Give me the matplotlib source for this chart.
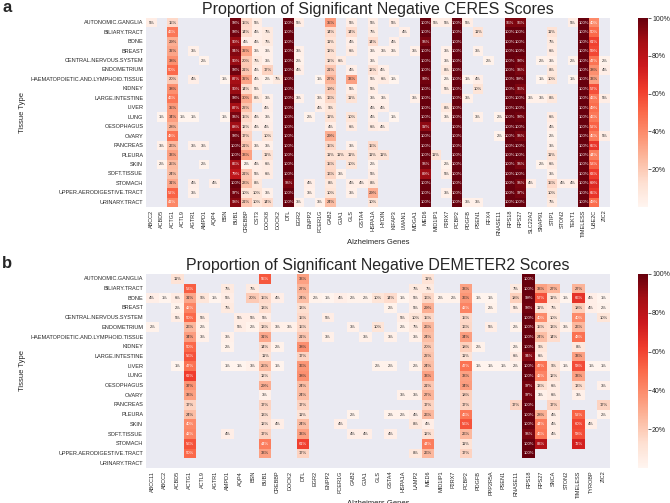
import numpy as np
import pandas as pd
import seaborn as sns
import matplotlib
matplotlib.use("Agg")
from matplotlib import pyplot as plt

tissues = ["AUTONOMIC.GANGLIA", "BILIARY.TRACT", "BONE", "BREAST", "CENTRAL.NERVOUS.SYSTEM",
           "ENDOMETRIUM", "HAEMATOPOIETIC.AND.LYMPHOID.TISSUE", "KIDNEY", "LARGE.INTESTINE",
           "LIVER", "LUNG", "OESOPHAGUS", "OVARY", "PANCREAS", "PLEURA", "SKIN", "SOFT.TISSUE",
           "STOMACH", "UPPER.AERODIGESTIVE.TRACT", "URINARY.TRACT"]

ceres_genes = ["ABCC2", "ACBD5", "ACTG1", "ACTL9", "AGTR1", "AMPD1", "AQP4", "BSN", "BUB1", "CREBBP",
               "CST3", "DOCK8", "DOCK2", "DTL", "EGR2", "ENPP2", "FCER1G", "GAB2", "GJA1", "GLS",
               "GSTA4", "HSPA1A", "HYDIN", "KIFAP3", "LMAN1", "MDGA1", "MED6", "MID1IP1", "P2RX7",
               "PCBP2", "PDGFB", "PSEN1", "RFX4", "RNASE11", "RPS18", "RPS27", "SLC22A2", "SNAP91",
               "STIP1", "STON2", "TEKT1", "TIMELESS", "UBE2C", "ZIC2"]

demeter_genes = ["ABCC11", "ABCC2", "ACBD5", "ACTG1", "ACTL9", "AGTR1", "AMPD1", "AQP4", "BSN", "BUB1",
                 "CREBBP", "DOCK2", "DTL", "EGR2", "ENPP2", "FCER1G", "GAB2", "GJA1", "GLS", "GSTA4",
                 "HSPA1A", "LAMP2", "MED6", "MID1IP1", "P2RX7", "PCBP2", "PDGFB", "PPP2R5A", "PSEN1",
                 "RNASE11", "RPS18", "RPS27", "SNCA", "STON2", "TIMELESS", "TYROBP", "ZIC2"]

# percent of cell lines with a significant negative score, one dict per tissue (missing = 0)
ceres_pct = [
    {"ABCC2": 5, "ACTG1": 15, "BUB1": 98, "CREBBP": 15, "CST3": 5, "DTL": 100, "EGR2": 5, "GAB2": 35,
     "GLS": 5, "HSPA1A": 5, "KIFAP3": 5, "MED6": 100, "MID1IP1": 5, "P2RX7": 5, "PCBP2": 100, "PDGFB": 5,
     "RPS18": 95, "RPS27": 95, "TEKT1": 5, "TIMELESS": 100, "UBE2C": 40},
    {"ACTG1": 46, "BUB1": 98, "CREBBP": 14, "CST3": 4, "DOCK8": 7, "DTL": 100, "GAB2": 14, "GLS": 14,
     "HSPA1A": 7, "LMAN1": 4, "MED6": 100, "PCBP2": 100, "PSEN1": 11, "RPS18": 100, "RPS27": 100,
     "STIP1": 11, "TIMELESS": 100, "UBE2C": 50},
    {"ACTG1": 29, "BUB1": 90, "CREBBP": 4, "CST3": 4, "DOCK8": 7, "DTL": 100, "GAB2": 11, "GLS": 4,
     "HSPA1A": 14, "KIFAP3": 4, "MED6": 96, "PCBP2": 100, "RPS18": 100, "RPS27": 100, "STIP1": 7,
     "TIMELESS": 100, "UBE2C": 61},
    {"ACTG1": 32, "AGTR1": 3, "BUB1": 94, "CREBBP": 32, "CST3": 3, "DOCK8": 3, "DTL": 100, "EGR2": 3,
     "GAB2": 12, "GLS": 6, "HSPA1A": 3, "HYDIN": 3, "KIFAP3": 3, "MDGA1": 3, "MED6": 100, "P2RX7": 3,
     "PCBP2": 100, "PSEN1": 3, "RPS18": 100, "RPS27": 100, "STIP1": 6, "TIMELESS": 100, "UBE2C": 59},
    {"ACTG1": 38, "AMPD1": 2, "BUB1": 90, "CREBBP": 20, "CST3": 7, "DOCK8": 3, "DTL": 100, "EGR2": 2,
     "GAB2": 12, "GJA1": 6, "HSPA1A": 3, "MED6": 100, "P2RX7": 3, "PCBP2": 100, "RFX4": 2, "RPS18": 100,
     "RPS27": 98, "SNAP91": 2, "STIP1": 3, "TEKT1": 2, "TIMELESS": 100, "UBE2C": 47, "ZIC2": 2},
    {"ACTG1": 50, "BUB1": 98, "CREBBP": 21, "CST3": 4, "DOCK8": 17, "DTL": 100, "EGR2": 4, "GAB2": 21,
     "GLS": 4, "HSPA1A": 12, "HYDIN": 4, "MED6": 100, "P2RX7": 8, "PCBP2": 100, "RPS18": 100, "RPS27": 96,
     "STIP1": 8, "TIMELESS": 100, "UBE2C": 38, "ZIC2": 4},
    {"ACTG1": 20, "AGTR1": 4, "BSN": 1, "BUB1": 87, "CREBBP": 32, "CST3": 4, "DOCK8": 2, "DOCK2": 7,
     "DTL": 100, "FCER1G": 1, "GAB2": 27, "GLS": 33, "HSPA1A": 5, "HYDIN": 6, "KIFAP3": 1, "MED6": 98,
     "P2RX7": 2, "PCBP2": 100, "PDGFB": 1, "PSEN1": 4, "RPS18": 100, "RPS27": 99, "SNAP91": 1,
     "STIP1": 10, "TEKT1": 1, "TIMELESS": 100, "UBE2C": 33},
    {"ACTG1": 38, "BUB1": 90, "CREBBP": 14, "CST3": 5, "DTL": 100, "GAB2": 19, "GLS": 5, "HSPA1A": 5,
     "MED6": 100, "P2RX7": 5, "PCBP2": 100, "PSEN1": 10, "RPS18": 100, "RPS27": 95, "TIMELESS": 100,
     "UBE2C": 57},
    {"ACTG1": 46, "BUB1": 98, "CREBBP": 30, "CST3": 8, "DOCK8": 3, "DTL": 100, "EGR2": 3, "FCER1G": 3,
     "GAB2": 16, "GLS": 11, "HSPA1A": 3, "HYDIN": 3, "MDGA1": 3, "MED6": 100, "PCBP2": 100, "PDGFB": 3,
     "RPS18": 100, "RPS27": 100, "SLC22A2": 3, "SNAP91": 3, "STIP1": 8, "TIMELESS": 100, "UBE2C": 46,
     "ZIC2": 5},
    {"ACTG1": 35, "BUB1": 87, "CREBBP": 22, "DOCK8": 4, "DTL": 100, "FCER1G": 4, "GAB2": 9, "HSPA1A": 4,
     "HYDIN": 4, "MED6": 100, "P2RX7": 8, "PCBP2": 100, "RPS18": 100, "RPS27": 100, "TIMELESS": 100,
     "UBE2C": 49},
    {"ACBD5": 1, "ACTG1": 34, "ACTL9": 1, "AGTR1": 1, "BSN": 1, "BUB1": 96, "CREBBP": 15, "CST3": 4,
     "DOCK8": 3, "DTL": 100, "ENPP2": 2, "GAB2": 11, "GLS": 10, "HSPA1A": 4, "KIFAP3": 1, "MED6": 100,
     "P2RX7": 3, "PCBP2": 100, "PSEN1": 3, "RNASE11": 2, "RPS18": 100, "RPS27": 98, "STIP1": 6,
     "TIMELESS": 100, "UBE2C": 46},
    {"ACTG1": 28, "BUB1": 88, "CREBBP": 12, "CST3": 4, "DOCK8": 4, "DTL": 100, "GAB2": 4, "GLS": 6,
     "HSPA1A": 6, "HYDIN": 4, "MED6": 92, "PCBP2": 100, "RPS18": 100, "RPS27": 100, "STIP1": 4,
     "TIMELESS": 100, "UBE2C": 52},
    {"ACTG1": 48, "BUB1": 98, "CREBBP": 17, "DOCK8": 10, "DTL": 100, "GAB2": 29, "MED6": 100,
     "PCBP2": 100, "RNASE11": 2, "RPS18": 100, "RPS27": 96, "STIP1": 2, "TIMELESS": 100, "UBE2C": 45,
     "ZIC2": 5},
    {"ACBD5": 3, "ACTG1": 26, "AGTR1": 3, "AMPD1": 3, "BUB1": 100, "CREBBP": 21, "CST3": 3, "DOCK8": 3,
     "DTL": 100, "GAB2": 15, "GLS": 3, "HSPA1A": 15, "MED6": 100, "PCBP2": 100, "RPS18": 100,
     "RPS27": 100, "STIP1": 3, "TIMELESS": 100, "UBE2C": 65},
    {"ACTG1": 33, "BUB1": 100, "CREBBP": 33, "DOCK8": 11, "DTL": 100, "GAB2": 11, "GJA1": 11, "GLS": 11,
     "HSPA1A": 11, "HYDIN": 11, "MED6": 100, "MID1IP1": 11, "PCBP2": 100, "RPS18": 100, "RPS27": 100,
     "STIP1": 11, "TIMELESS": 100, "UBE2C": 44},
    {"ACBD5": 2, "ACTG1": 25, "AMPD1": 2, "BUB1": 86, "CREBBP": 2, "CST3": 4, "DOCK8": 6, "DTL": 100,
     "GAB2": 15, "GLS": 10, "HSPA1A": 2, "MED6": 96, "P2RX7": 2, "PCBP2": 100, "RPS18": 100, "RPS27": 96,
     "SNAP91": 2, "STIP1": 6, "TIMELESS": 100, "UBE2C": 53},
    {"ACTG1": 24, "BUB1": 79, "CREBBP": 21, "CST3": 5, "DOCK8": 6, "DTL": 100, "GAB2": 16, "GJA1": 3,
     "HSPA1A": 5, "MED6": 89, "P2RX7": 5, "PCBP2": 100, "RPS18": 100, "RPS27": 100, "STIP1": 3,
     "TIMELESS": 100, "UBE2C": 63},
    {"ACTG1": 31, "AGTR1": 4, "AQP4": 4, "BUB1": 100, "CREBBP": 23, "CST3": 8, "DTL": 96, "ENPP2": 4,
     "GAB2": 8, "GLS": 4, "GSTA4": 4, "HSPA1A": 8, "MED6": 100, "PCBP2": 100, "RPS18": 100, "RPS27": 96,
     "SLC22A2": 4, "STIP1": 15, "STON2": 4, "TEKT1": 4, "TIMELESS": 100, "UBE2C": 69},
    {"ACTG1": 52, "AGTR1": 3, "BUB1": 97, "CREBBP": 10, "CST3": 10, "DOCK8": 3, "DTL": 100, "ENPP2": 3,
     "GAB2": 10, "GLS": 3, "HSPA1A": 29, "MED6": 100, "P2RX7": 3, "PCBP2": 100, "RPS18": 100, "RPS27": 97,
     "STIP1": 10, "TIMELESS": 100, "UBE2C": 65},
    {"ACTG1": 41, "BUB1": 93, "CREBBP": 21, "CST3": 10, "DOCK8": 14, "DTL": 100, "EGR2": 3, "FCER1G": 3,
     "GAB2": 24, "HSPA1A": 10, "MED6": 100, "PCBP2": 100, "PDGFB": 3, "PSEN1": 3, "RPS18": 100,
     "RPS27": 100, "STIP1": 7, "TIMELESS": 100, "UBE2C": 49},
]

demeter_pct = [
    {"ACBD5": 11, "BUB1": 55, "DTL": 33, "MED6": 11, "RPS18": 100},
    {"ACTG1": 53, "AMPD1": 7, "BSN": 7, "DTL": 27, "LAMP2": 7, "MED6": 7, "PCBP2": 33, "RNASE11": 7,
     "RPS18": 100, "RPS27": 33, "SNCA": 27, "TIMELESS": 27},
    {"ABCC11": 4, "ABCC2": 1, "ACBD5": 6, "ACTG1": 31, "ACTL9": 9, "AGTR1": 1, "AMPD1": 5, "BSN": 20,
     "BUB1": 15, "CREBBP": 4, "DTL": 24, "EGR2": 2, "ENPP2": 1, "FCER1G": 4, "GAB2": 2, "GJA1": 2,
     "GLS": 10, "GSTA4": 14, "HSPA1A": 1, "LAMP2": 5, "MED6": 16, "MID1IP1": 2, "P2RX7": 2, "PCBP2": 36,
     "PDGFB": 1, "PPP2R5A": 1, "RNASE11": 18, "RPS18": 99, "RPS27": 57, "SNCA": 11, "STON2": 1,
     "TIMELESS": 66, "TYROBP": 4, "ZIC2": 1},
    {"ACBD5": 2, "ACTG1": 42, "AMPD1": 7, "BUB1": 13, "DTL": 13, "GSTA4": 2, "LAMP2": 5, "MED6": 29,
     "PCBP2": 42, "PPP2R5A": 2, "RNASE11": 5, "RPS18": 98, "RPS27": 11, "SNCA": 7, "TIMELESS": 18,
     "TYROBP": 4, "ZIC2": 2},
    {"ACBD5": 5, "ACTG1": 50, "ACTL9": 5, "AQP4": 5, "BSN": 5, "BUB1": 5, "DTL": 15, "ENPP2": 5,
     "HSPA1A": 5, "LAMP2": 10, "MED6": 15, "PCBP2": 15, "RPS18": 100, "RPS27": 40, "SNCA": 10,
     "TIMELESS": 40, "ZIC2": 10},
    {"ABCC11": 2, "ACTG1": 26, "ACTL9": 2, "AQP4": 5, "BSN": 2, "BUB1": 13, "CREBBP": 3, "DOCK2": 3,
     "DTL": 15, "GAB2": 3, "GLS": 10, "HSPA1A": 2, "LAMP2": 7, "MED6": 26, "PCBP2": 16, "PPP2R5A": 5,
     "RNASE11": 2, "RPS18": 100, "RPS27": 15, "SNCA": 13, "STON2": 3, "TIMELESS": 26},
    {"ACTG1": 34, "ACTL9": 3, "AMPD1": 3, "BUB1": 31, "DTL": 21, "ENPP2": 3, "GJA1": 3, "GSTA4": 3,
     "LAMP2": 3, "MED6": 24, "PCBP2": 34, "RPS18": 100, "RPS27": 24, "SNCA": 14, "TIMELESS": 48},
    {"ACTG1": 50, "AMPD1": 2, "BUB1": 14, "CREBBP": 2, "DTL": 38, "MED6": 20, "PCBP2": 18, "PDGFB": 2,
     "RNASE11": 2, "RPS18": 100, "RPS27": 9, "TIMELESS": 8},
    {"ACTG1": 56, "BUB1": 11, "DTL": 17, "MED6": 22, "PCBP2": 11, "RNASE11": 6, "RPS18": 94, "RPS27": 6,
     "TIMELESS": 33},
    {"ACBD5": 1, "ACTG1": 47, "AMPD1": 1, "AQP4": 1, "BSN": 3, "BUB1": 25, "CREBBP": 1, "DTL": 36,
     "GLS": 2, "GSTA4": 2, "LAMP2": 2, "MED6": 24, "PCBP2": 47, "PDGFB": 1, "PPP2R5A": 1, "PSEN1": 1,
     "RNASE11": 2, "RPS18": 100, "RPS27": 47, "SNCA": 9, "STON2": 1, "TIMELESS": 58, "TYROBP": 1,
     "ZIC2": 1},
    {"ACTG1": 62, "BUB1": 12, "DTL": 38, "MED6": 33, "PCBP2": 33, "RPS18": 100, "RPS27": 42, "SNCA": 12,
     "TIMELESS": 33},
    {"ACTG1": 37, "BUB1": 29, "DTL": 24, "MED6": 21, "PCBP2": 34, "RPS18": 97, "RPS27": 13, "SNCA": 6,
     "TIMELESS": 13, "ZIC2": 3},
    {"ACTG1": 33, "BUB1": 3, "DTL": 24, "HSPA1A": 3, "LAMP2": 3, "MED6": 27, "PCBP2": 18, "RPS18": 97,
     "RPS27": 3, "SNCA": 6, "TIMELESS": 3},
    {"ACTG1": 17, "BUB1": 17, "DTL": 17, "MED6": 17, "PCBP2": 17, "RNASE11": 17, "RPS18": 100,
     "SNCA": 17, "ZIC2": 17},
    {"ACTG1": 24, "BUB1": 13, "DTL": 11, "GAB2": 2, "GSTA4": 2, "HSPA1A": 2, "LAMP2": 4, "MED6": 26,
     "PCBP2": 46, "RPS18": 100, "RPS27": 28, "SNCA": 4, "TIMELESS": 52, "ZIC2": 2},
    {"ACTG1": 40, "BUB1": 12, "CREBBP": 4, "DTL": 24, "FCER1G": 4, "LAMP2": 8, "MED6": 4, "PCBP2": 56,
     "RPS18": 100, "RPS27": 44, "SNCA": 4, "TIMELESS": 60, "TYROBP": 4},
    {"ACTG1": 42, "AMPD1": 4, "BUB1": 17, "DTL": 33, "GAB2": 4, "GJA1": 4, "GSTA4": 4, "MED6": 12,
     "PCBP2": 26, "RPS18": 96, "RPS27": 46, "SNCA": 4, "TIMELESS": 58},
    {"ACTG1": 56, "BUB1": 44, "DTL": 61, "MED6": 44, "PCBP2": 11, "RPS18": 100, "RPS27": 83,
     "TIMELESS": 72},
    {"ACTG1": 50, "BUB1": 33, "DTL": 17, "LAMP2": 8, "MED6": 26, "PCBP2": 17, "RPS18": 100},
    {},
]


def to_frame(rows, genes):
    df = pd.DataFrame(0.0, index=tissues, columns=genes)
    for tissue, row in zip(tissues, rows):
        for gene, val in row.items():
            df.loc[tissue, gene] = val
    return df


sns.set_style("darkgrid")
plt.rcParams['font.family'] = ['Liberation Sans', 'DejaVu Sans']

fig = plt.figure(figsize=(6.7, 5.03), dpi=100)

panels = [
    (ceres_pct, ceres_genes, "Proportion of Significant Negative CERES Scores", "a", 0.5885, 0.3757),
    (demeter_pct, demeter_genes, "Proportion of Significant Negative DEMETER2 Scores", "b", 0.0696, 0.3857),
]

for rows, genes, title, letter, bottom, height in panels:
    df = to_frame(rows, genes)
    annot = df.map(lambda v: "%d%%" % v if v > 0 else "")
    ax = fig.add_axes([0.218, bottom, 0.6925, height])
    cax = fig.add_axes([0.952, bottom, 0.015, height])
    sns.heatmap(df, ax=ax, cbar_ax=cax, mask=(df == 0), cmap="Reds", vmin=0, vmax=100,
                annot=annot.values, fmt="", annot_kws={"size": 3},
                xticklabels=genes, yticklabels=tissues,
                cbar_kws={"ticks": [20, 40, 60, 80, 100], "format": "{x:.0f}%"})
    ax.grid(False)
    ax.tick_params(axis="both", labelsize=4, length=0, pad=2)
    plt.setp(ax.get_xticklabels(), rotation=90)
    ax.set_xlabel("Alzheimers Genes", fontsize=5.5, labelpad=1)
    ax.set_ylabel("Tissue Type", fontsize=5.5, labelpad=3)
    ax.set_title(title, fontsize=11.5, pad=3)
    cax.tick_params(labelsize=5, length=2, width=0.5, pad=1)
    fig.text(0.003, bottom + height + 0.021, letter, fontsize=12, fontweight="bold", va="center")

fig.savefig("out.png", dpi=100)
